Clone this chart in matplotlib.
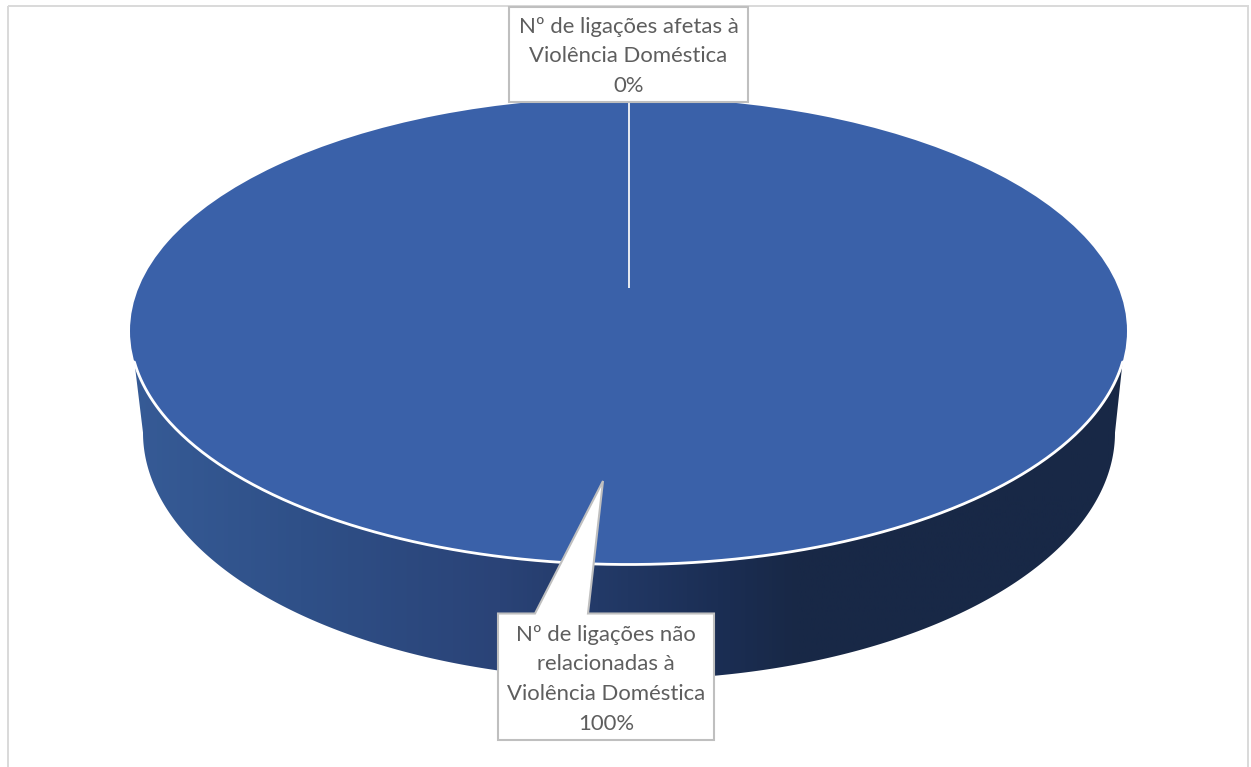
import numpy as np
import matplotlib
matplotlib.use("Agg")
import matplotlib.pyplot as plt
from matplotlib.colors import LinearSegmentedColormap
from matplotlib.patches import Rectangle, Polygon

plt.rcParams['font.family'] = ['Lato', 'DejaVu Sans']

# Data
slice_names = ["Nº de ligações afetas à\nViolência Doméstica", "Nº de ligações não\nrelacionadas à\nViolência Doméstica"]
slice_values = [0, 100]
slice_pcts = ["0%", "100%"]

W, H = 1251, 767
fig = plt.figure(figsize=(W/100, H/100), dpi=100, facecolor='white')
ax = fig.add_axes([0, 0, 1, 1])
ax.set_xlim(0, W)
ax.set_ylim(H, 0)
ax.axis('off')

# chart frame
ax.add_patch(Rectangle((8, 6), 1240, 775, fill=False, ec='#D9D9D9', lw=1.4))

# ellipse geometry, in pixels
cx, cy, rx, ry = 628.5, 331, 498.5, 233.5
low_cx, low_cy, low_rx, low_ry = 629, 432.6, 486, 247
pivot_y = 287

# side of the disc, gradient clipped to outline
t_top = np.arcsin((362 - cy) / ry)
t = np.linspace(np.pi, 0, 300)
low_x = low_cx + low_rx*np.cos(t)
low_y = low_cy + low_ry*np.sin(t)
side_pts = np.vstack([[[cx - rx*np.cos(t_top), 362]], np.column_stack([low_x, low_y]), [[cx + rx*np.cos(t_top), 362], [cx, cy]]])
side = Polygon(side_pts, closed=True, fc='none', ec='none')
ax.add_patch(side)
side_cmap = LinearSegmentedColormap.from_list('side', [(0, '#365B96'), (0.17, '#2F5088'), (0.37, '#2A4377'), (0.47, '#233A68'), (0.59, '#1B2E54'), (0.67, '#182846'), (1, '#182846')])
grad = ax.imshow(np.linspace(0, 1, 512).reshape(1, -1), cmap=side_cmap, extent=[130, 1127, 700, 300], aspect='auto', zorder=1)
grad.set_clip_path(side)
ax.set_xlim(0, W)
ax.set_ylim(H, 0)

# top of the disc, real pie squeezed into the ellipse box
pie_ax = fig.add_axes([(cx-rx)/W, 1-(cy+ry)/H, 2*rx/W, 2*ry/H])
pie_ax.pie(slice_values, colors=['#3A61A9', '#3A61A9'], startangle=90, counterclock=False, radius=1)
pie_ax.set_aspect('auto')
pie_ax.set_xlim(-1, 1)
pie_ax.set_ylim(-1, 1)
pie_ax.patch.set_alpha(0)

over = fig.add_axes([0, 0, 1, 1])
over.set_xlim(0, W)
over.set_ylim(H, 0)
over.axis('off')
over.patch.set_alpha(0)

# white rim on the front edge
a = np.linspace(t_top, np.pi - t_top, 300)
over.plot(cx + rx*np.cos(a), cy + ry*np.sin(a), color='white', lw=2.0, solid_capstyle='round')

# slice boundaries, running from the pivot to the rim
cum = np.cumsum(slice_values) / np.sum(slice_values)
for frac in cum:
    ang = 2*np.pi*frac
    over.plot([cx + 0.5, cx + 0.5 + rx*np.sin(ang)], [pivot_y, cy - ry*np.cos(ang)], color='#E4E8F0', lw=1.4)

# callouts
text_color = '#5E5E5E'
border = '#BFBFBF'
over.add_patch(Rectangle((509, 7), 239, 95, fc='white', ec=border, lw=1.5, zorder=5))
for i, line in enumerate((slice_names[0] + "\n" + slice_pcts[0]).split("\n")):
    over.text(628.5, 27 + i*29.5, line, ha='center', va='center', color=text_color, fontsize=15.9, zorder=6)

box = [(498, 613.5), (535, 613.5), (603, 481), (588, 613.5), (714, 613.5), (714, 740), (498, 740)]
over.add_patch(Polygon(box, closed=True, fc='white', ec=border, lw=1.5, zorder=5))
for i, line in enumerate((slice_names[1] + "\n" + slice_pcts[1]).split("\n")):
    over.text(606, 635 + i*29.5, line, ha='center', va='center', color=text_color, fontsize=15.9, zorder=6)

fig.savefig('out.png', dpi=100)
